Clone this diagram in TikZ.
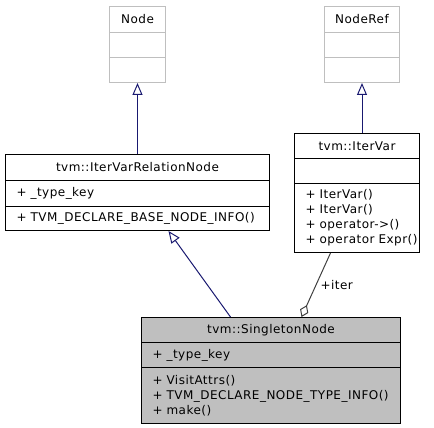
\documentclass[tikz,border=0pt]{standalone}
\usepackage{fontspec}
\setmainfont{DejaVu Sans}[LetterSpace=4]
\usetikzlibrary{arrows.meta, positioning, calc}
\definecolor{edgeblue}{RGB}{25, 25, 112}
\definecolor{boxgray}{RGB}{191, 191, 191}
\definecolor{aggrgray}{RGB}{64, 64, 64}

\begin{document}
\begin{tikzpicture}[x=1pt, y=-1pt,
  cls/.style={draw=black, fill=white, line width=1pt, anchor=north west,
              inner sep=0pt, font=\fontsize{12}{15}\selectfont},
  head/.style={cls, text width=#1, align=center},
  mem/.style={cls, inner xsep=11pt, text width=#1, align=left},
  ghost/.style={draw=boxgray},
  inh/.style={-{Triangle[open, length=12pt, width=10pt]}, edgeblue, line width=1pt},
  aggr/.style={{Diamond[open, length=13pt, width=9pt]}-, aggrgray, line width=1pt}
]
  \useasboundingbox (0,0) rectangle (434,428);

  % base classes
  \node[head=56pt, ghost, minimum height=26pt] (nodeb) at (109,6) {Node};
  \node[head=56pt, ghost, minimum height=25pt] (nodeb-a) at (109,32) {};
  \node[head=56pt, ghost, minimum height=25pt] (nodeb-o) at (109,57) {};

  \node[head=75pt, ghost, minimum height=26pt] (noderef) at (324,6) {NodeRef};
  \node[head=75pt, ghost, minimum height=25pt] (noderef-a) at (324,32) {};
  \node[head=75pt, ghost, minimum height=25pt] (noderef-o) at (324,57) {};

  % tvm::IterVarRelationNode
  \node[head=264pt, minimum height=26pt] (relnode) at (5,154) {tvm::IterVarRelationNode};
  \node[mem=242pt, minimum height=26pt] (relnode-a) at (5,180) {+ \_type\_key};
  \node[mem=242pt, minimum height=24pt] (relnode-o) at (5,206) {+ TVM\_DECLARE\_BASE\_NODE\_INFO()};

  % tvm::IterVar
  \node[head=125pt, minimum height=25pt] (itervar) at (294,133) {tvm::IterVar};
  \node[head=125pt, minimum height=25pt] (itervar-a) at (294,158) {};
  \node[mem=103pt, minimum height=69pt] (itervar-o) at (294,183)
    {+ IterVar()\\+ IterVar()\\+ operator->()\\\mbox{+ operator Expr()}};

  % tvm::SingletonNode
  \node[head=259pt, fill=boxgray, minimum height=25pt] (single) at (141,317) {tvm::SingletonNode};
  \node[mem=237pt, fill=boxgray, minimum height=25pt] (single-a) at (141,342) {+ \_type\_key};
  \node[mem=237pt, fill=boxgray, minimum height=56pt] (single-o) at (141,367)
    {+ VisitAttrs()\\+ TVM\_DECLARE\_NODE\_TYPE\_INFO()\\+ make()};

  \draw[inh] (relnode.north) -- (nodeb-o.south);
  \draw[inh] (itervar.north -| noderef-o.south) -- (noderef-o.south);
  \draw[inh] ([xshift=-40.5pt]single.north) -- ([xshift=31pt]relnode-o.south);
  \draw[aggr] ([xshift=30.5pt]single.north) -- node[right, black, font=\fontsize{12}{14}\selectfont, inner sep=4pt] {+iter} ([xshift=-26.5pt]itervar-o.south);
\end{tikzpicture}
\end{document}
